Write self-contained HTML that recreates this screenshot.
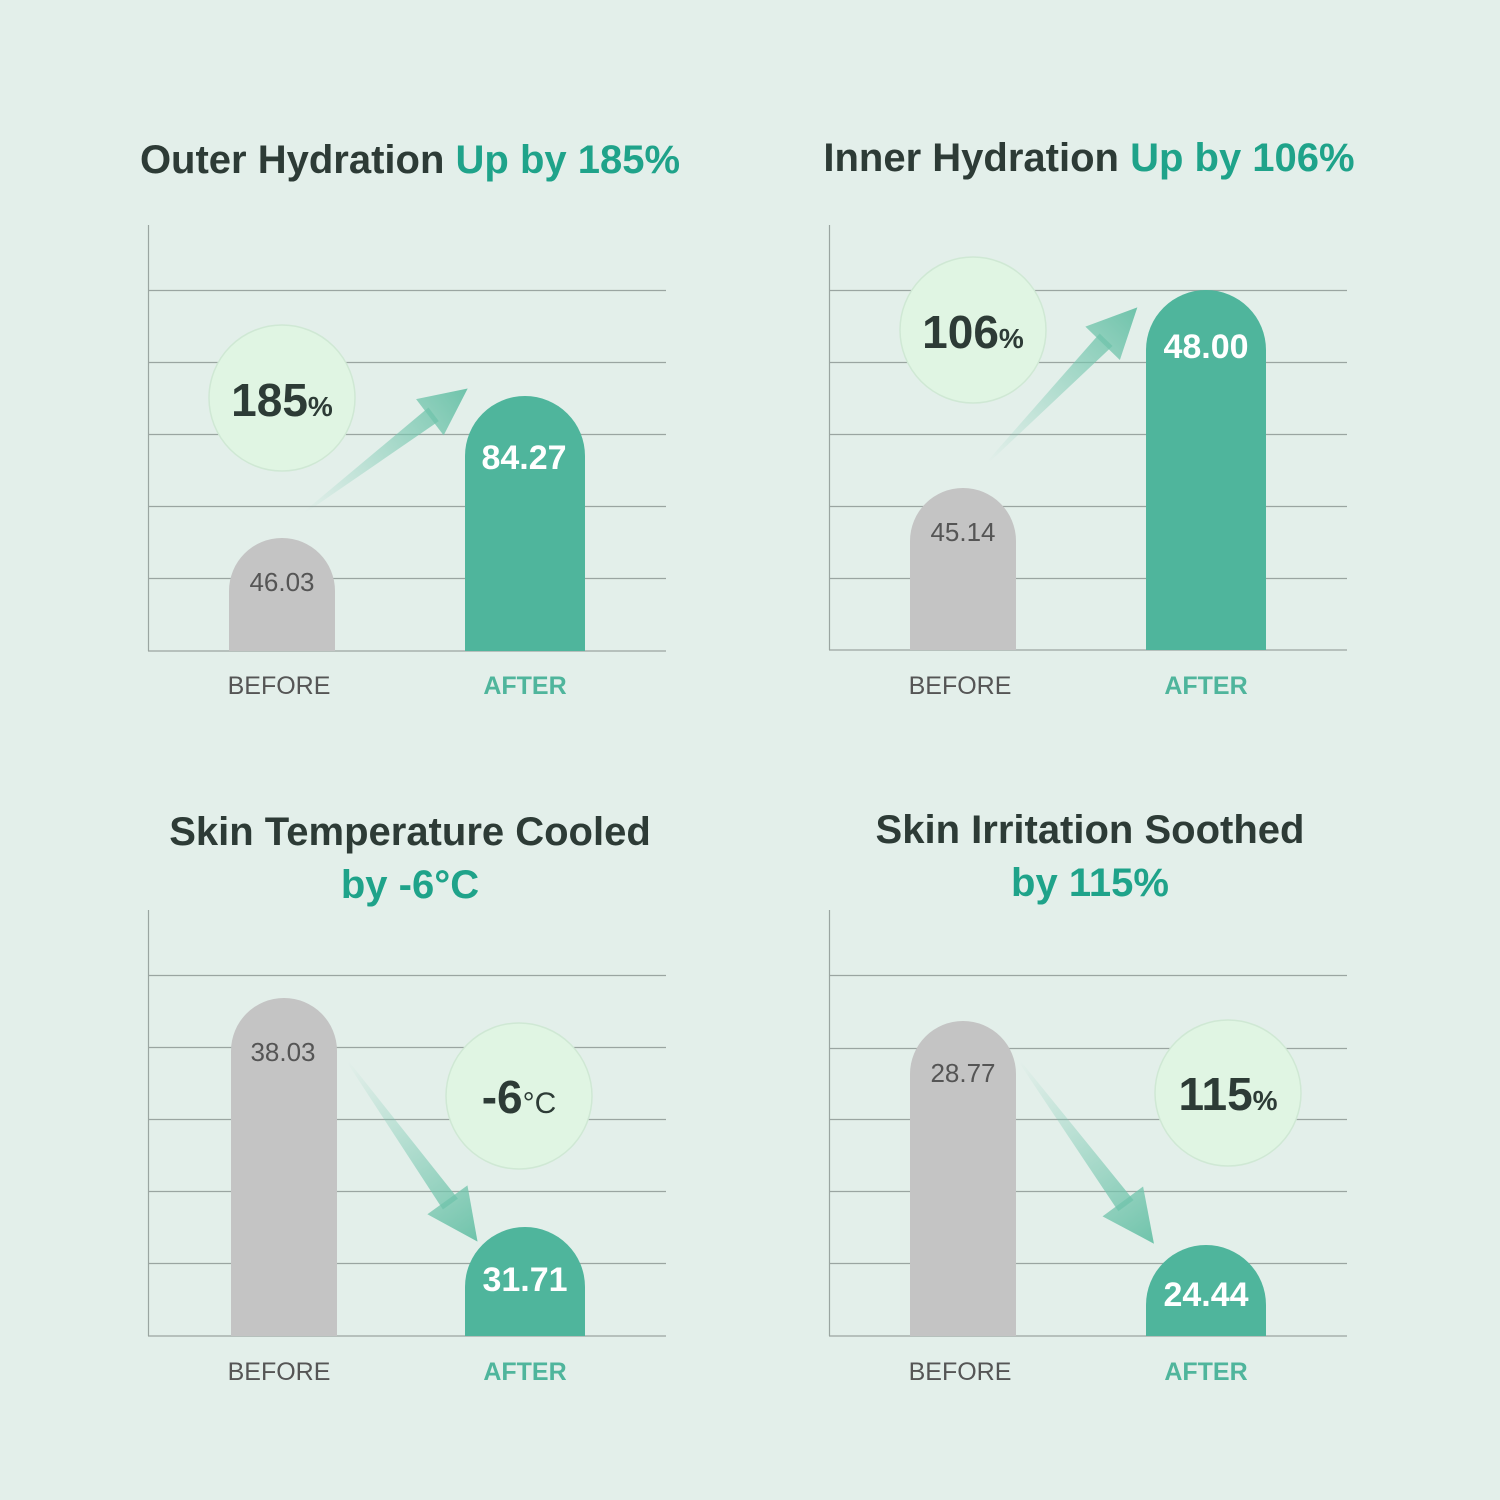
<!DOCTYPE html>
<html><head><meta charset="utf-8"><style>
html,body{margin:0;padding:0;background:#e3efea;}
svg{display:block}
text{font-family:"Liberation Sans","DejaVu Sans",sans-serif}
</style></head><body>
<svg width="1500" height="1500" viewBox="0 0 1500 1500" xmlns="http://www.w3.org/2000/svg">
<defs>
<linearGradient id="ag" gradientUnits="userSpaceOnUse" x1="0" y1="0" x2="220" y2="0">
<stop offset="0" stop-color="#7fcbb4" stop-opacity="0"/>
<stop offset="1" stop-color="#6cc2a9" stop-opacity="1"/>
</linearGradient>
<g id="arrow"><polygon points="0,-1 170,-9 170,9 0,1" fill="url(#ag)"/><polygon points="165,-24 215,0 165,24" fill="url(#ag)"/></g>
</defs>
<rect width="1500" height="1500" fill="#e3efea"/>

<!-- Titles -->
<text x="410" y="173" text-anchor="middle" font-size="40" font-weight="bold" fill="#2d3b36">Outer Hydration <tspan fill="#1fa38a">Up by 185%</tspan></text>
<text x="1089" y="171" text-anchor="middle" font-size="40" font-weight="bold" fill="#2d3b36">Inner Hydration <tspan fill="#1fa38a">Up by 106%</tspan></text>
<text x="410" y="845" text-anchor="middle" font-size="40" font-weight="bold" fill="#2d3b36">Skin Temperature Cooled</text>
<text x="410" y="898" text-anchor="middle" font-size="40" font-weight="bold" fill="#1fa38a">by -6°C</text>
<text x="1090" y="843" text-anchor="middle" font-size="40" font-weight="bold" fill="#2d3b36">Skin Irritation Soothed</text>
<text x="1090" y="896" text-anchor="middle" font-size="40" font-weight="bold" fill="#1fa38a">by 115%</text>

<g stroke="#9aa5a1" stroke-width="1.2">
<!-- panel1 -->
<line x1="148.5" y1="225" x2="148.5" y2="651"/>
<line x1="148" y1="290.5" x2="666" y2="290.5"/><line x1="148" y1="362.5" x2="666" y2="362.5"/><line x1="148" y1="434.5" x2="666" y2="434.5"/><line x1="148" y1="506.5" x2="666" y2="506.5"/><line x1="148" y1="578.5" x2="666" y2="578.5"/><line x1="148" y1="651" x2="666" y2="651"/>
<!-- panel2 -->
<line x1="829.5" y1="225" x2="829.5" y2="650"/>
<line x1="829" y1="290.5" x2="1347" y2="290.5"/><line x1="829" y1="362.5" x2="1347" y2="362.5"/><line x1="829" y1="434.5" x2="1347" y2="434.5"/><line x1="829" y1="506.5" x2="1347" y2="506.5"/><line x1="829" y1="578.5" x2="1347" y2="578.5"/><line x1="829" y1="650" x2="1347" y2="650"/>
<!-- panel3 -->
<line x1="148.5" y1="910" x2="148.5" y2="1336"/>
<line x1="148" y1="975.5" x2="666" y2="975.5"/><line x1="148" y1="1047.5" x2="666" y2="1047.5"/><line x1="148" y1="1119.5" x2="666" y2="1119.5"/><line x1="148" y1="1191.5" x2="666" y2="1191.5"/><line x1="148" y1="1263.5" x2="666" y2="1263.5"/><line x1="148" y1="1336" x2="666" y2="1336"/>
<!-- panel4 -->
<line x1="829.5" y1="910" x2="829.5" y2="1336"/>
<line x1="829" y1="975.5" x2="1347" y2="975.5"/><line x1="829" y1="1048.5" x2="1347" y2="1048.5"/><line x1="829" y1="1119.5" x2="1347" y2="1119.5"/><line x1="829" y1="1191.5" x2="1347" y2="1191.5"/><line x1="829" y1="1263.5" x2="1347" y2="1263.5"/><line x1="829" y1="1336" x2="1347" y2="1336"/>
</g>

<!-- bars -->
<path d="M229,651 V591 A53,53 0 0 1 335,591 V651 Z" fill="#c4c4c4"/>
<path d="M465,651 V456 A60,60 0 0 1 585,456 V651 Z" fill="#4fb59c"/>
<path d="M910,650 V541 A53,53 0 0 1 1016,541 V650 Z" fill="#c4c4c4"/>
<path d="M1146,650 V350 A60,60 0 0 1 1266,350 V650 Z" fill="#4fb59c"/>
<path d="M231,1336 V1051 A53,53 0 0 1 337,1051 V1336 Z" fill="#c4c4c4"/>
<path d="M465,1336 V1287 A60,60 0 0 1 585,1287 V1336 Z" fill="#4fb59c"/>
<path d="M910,1336 V1074 A53,53 0 0 1 1016,1074 V1336 Z" fill="#c4c4c4"/>
<path d="M1146,1336 V1305 A60,60 0 0 1 1266,1305 V1336 Z" fill="#4fb59c"/>

<!-- bar values -->
<g font-size="26" fill="#555" text-anchor="middle">
<text x="282" y="591">46.03</text>
<text x="963" y="541">45.14</text>
<text x="283" y="1061">38.03</text>
<text x="963" y="1082">28.77</text>
</g>
<g font-size="34" font-weight="bold" fill="#fff" text-anchor="middle">
<text x="524" y="469">84.27</text>
<text x="1206" y="358">48.00</text>
<text x="525" y="1291">31.71</text>
<text x="1206" y="1306">24.44</text>
</g>

<!-- circles -->
<g fill="#e0f5e3" stroke="#cfe8d4" stroke-width="1.5">
<circle cx="282" cy="398" r="73"/>
<circle cx="973" cy="330" r="73"/>
<circle cx="519" cy="1096" r="73"/>
<circle cx="1228" cy="1093" r="73"/>
</g>
<g font-weight="bold" fill="#2d3b36" text-anchor="middle">
<text x="282" y="416" font-size="46">185<tspan font-size="28">%</tspan></text>
<text x="973" y="348" font-size="46">106<tspan font-size="28">%</tspan></text>
<text x="519" y="1113" font-size="46">-6<tspan font-size="30" font-weight="normal">°C</tspan></text>
<text x="1228" y="1110" font-size="46">115<tspan font-size="28">%</tspan></text>
</g>

<!-- arrows -->
<use href="#arrow" transform="translate(305,512) rotate(-37.2) scale(0.95)"/>
<use href="#arrow" transform="translate(988,462) rotate(-46) scale(1)"/>
<use href="#arrow" transform="translate(348,1062) rotate(54.2) scale(1.03)"/>
<use href="#arrow" transform="translate(1020,1062) rotate(53.6) scale(1.05)"/>

<!-- x labels -->
<g font-size="25" text-anchor="middle">
<text x="279" y="694" fill="#555">BEFORE</text>
<text x="525" y="694" fill="#4fb59c" font-weight="bold">AFTER</text>
<text x="960" y="694" fill="#555">BEFORE</text>
<text x="1206" y="694" fill="#4fb59c" font-weight="bold">AFTER</text>
<text x="279" y="1380" fill="#555">BEFORE</text>
<text x="525" y="1380" fill="#4fb59c" font-weight="bold">AFTER</text>
<text x="960" y="1380" fill="#555">BEFORE</text>
<text x="1206" y="1380" fill="#4fb59c" font-weight="bold">AFTER</text>
</g>
</svg>
</body></html>
